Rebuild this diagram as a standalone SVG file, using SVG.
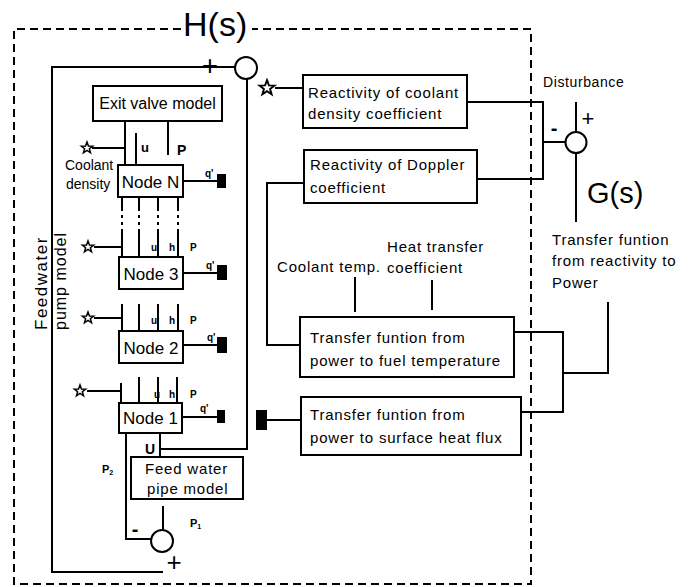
<svg xmlns="http://www.w3.org/2000/svg" width="691" height="587" viewBox="0 0 691 587">
<style>
.ln{fill:none;stroke:#000;stroke-width:2}
.bx{fill:#fff;stroke:#000;stroke-width:2}
.ds{fill:none;stroke:#000;stroke-width:2;stroke-dasharray:8 5}
.dd{fill:none;stroke:#000;stroke-width:2;stroke-dasharray:14 4 3 4 3 4 200}
.t{font-family:"Liberation Sans",Arial,Helvetica,sans-serif;fill:#000}
.b{font-size:15px;letter-spacing:0.8px}
.nd{font-size:17px;text-anchor:middle}
.sm{font-size:10px;font-weight:bold}
.blk{fill:#000}
.st{fill:#fff;stroke:#000;stroke-width:1.5}
.sum{fill:#fff;stroke:#000;stroke-width:2}
</style>
<defs>
<polygon id="star" points="0,-6 1.47,-2.02 5.71,-1.85 2.38,0.77 3.53,4.85 0,2.5 -3.53,4.85 -2.38,0.77 -5.71,-1.85 -1.47,-2.02"/>
</defs>
<rect width="691" height="587" fill="#fff"/>

<g id="boundary">
<path class="ds" d="M181,29 H14 V584 H531 V29 H252"/>
<text class="t" x="183" y="36" font-size="34">H(s)</text>
</g>

<g id="connectors">
<path class="ln" d="M235,67 H52 V572 H163"/>
<path class="ln" d="M247,79 V449 H160"/>
<path class="ln" d="M125,121 V165 M168,121 V155 M136,133 V165 M92,148 H125"/>
<path class="dd" d="M122,197 V257 M139,197 V257 M158,197 V257 M178,197 V257"/>
<path class="ln" d="M94,247 H122"/>
<path class="ln" d="M122,304 V331 M139,304 V331 M158,304 V331 M178,304 V331 M94,318 H122"/>
<path class="ln" d="M121,383 V403 M139,377 V403 M158,377 V403 M177,377 V403 M87,391 H121"/>
<path class="ln" d="M183,181 H217 M183,273 H217 M183,345 H217 M182,417 H217"/>
<path class="ln" d="M126,433 V539 H151 M160,433 V457 M163,506 V530"/>
<path class="ln" d="M275,88 H303"/>
<path class="ln" d="M467,102 H543 V179 H477 M543,142 H565"/>
<path class="ln" d="M576,102 V132 M576,153 V222"/>
<path class="ln" d="M304,183 H267 V345 H300"/>
<path class="ln" d="M355,277 V312 M432,280 V310"/>
<path class="ln" d="M514,332 H563 V412 H521 M563,373 H608 V302"/>
<path class="ln" d="M267,420 H301"/>
</g>

<g id="sum-top">
<circle class="sum" cx="246" cy="68" r="11"/>
<text class="t" x="210" y="75" font-size="28" text-anchor="middle">+</text>
</g>
<g id="sum-bottom">
<circle class="sum" cx="162" cy="541" r="11"/>
<text class="t" x="135" y="536" font-size="20" font-weight="bold" text-anchor="middle">-</text>
<text class="t" x="174" y="571" font-size="26" text-anchor="middle">+</text>
</g>
<g id="sum-right">
<circle class="sum" cx="576" cy="142.5" r="10.5"/>
<text class="t" x="554" y="135" font-size="20" font-weight="bold" text-anchor="middle">-</text>
<text class="t" x="588" y="126" font-size="22" text-anchor="middle">+</text>
</g>

<g id="exit-valve">
<rect class="bx" x="93" y="86" width="129" height="35"/>
<text class="t" x="157.5" y="109" font-size="16" text-anchor="middle">Exit valve model</text>
<text class="t" x="141" y="152" font-size="13" font-weight="bold">u</text>
<text class="t" x="177" y="155" font-size="14" font-weight="bold">P</text>
</g>

<g id="node-n">
<rect class="bx" x="118" y="165" width="65" height="32"/>
<text class="t nd" x="150.5" y="188">Node N</text>
<use href="#star" class="st" x="87" y="148"/>
<text class="t" x="65" y="170" font-size="14">Coolant</text>
<text class="t" x="66" y="189" font-size="14">density</text>
<text class="t sm" x="205" y="177">q'</text>
<rect class="blk" x="217" y="174" width="9" height="14"/>
</g>

<g id="node-3">
<rect class="bx" x="119" y="257" width="64" height="32"/>
<text class="t nd" x="151" y="280">Node 3</text>
<use href="#star" class="st" x="88" y="247"/>
<text class="t sm" x="151" y="251">u</text>
<text class="t sm" x="169" y="251">h</text>
<text class="t sm" x="190" y="251">P</text>
<text class="t sm" x="206" y="269">q'</text>
<rect class="blk" x="217" y="265" width="10" height="15"/>
</g>

<g id="node-2">
<rect class="bx" x="119" y="331" width="64" height="32"/>
<text class="t nd" x="151" y="354">Node 2</text>
<use href="#star" class="st" x="88" y="318"/>
<text class="t sm" x="151" y="324">u</text>
<text class="t sm" x="169" y="324">h</text>
<text class="t sm" x="190" y="324">P</text>
<text class="t sm" x="207" y="341">q'</text>
<rect class="blk" x="217" y="337" width="10" height="16"/>
</g>

<g id="node-1">
<rect class="bx" x="119" y="403" width="63" height="30"/>
<text class="t nd" x="150.5" y="424">Node 1</text>
<use href="#star" class="st" x="80" y="391"/>
<text class="t sm" x="154" y="398">u</text>
<text class="t sm" x="169" y="398">h</text>
<text class="t sm" x="190" y="398">P</text>
<text class="t sm" x="200" y="412">q'</text>
<rect class="blk" x="217" y="410" width="8" height="13"/>
<text class="t" x="150" y="454" font-size="14" font-weight="bold" text-anchor="middle">U</text>
</g>

<g id="feedwater-pipe">
<rect class="bx" x="131" y="457" width="112" height="42"/>
<text class="t b" x="145" y="474">Feed water</text>
<text class="t b" x="147" y="494">pipe model</text>
</g>

<g id="pump-labels">
<text class="t" transform="translate(47,330) rotate(-90)" font-size="17" letter-spacing="1.5">Feedwater</text>
<text class="t" transform="translate(66,330) rotate(-90)" font-size="16" letter-spacing="1">pump model</text>
<text class="t" x="102" y="473" font-size="11" font-weight="bold">P<tspan font-size="7" dy="2">2</tspan></text>
<text class="t" x="190" y="527" font-size="11" font-weight="bold">P<tspan font-size="7" dy="2">1</tspan></text>
</g>

<g id="coolant-reactivity">
<rect class="bx" x="303" y="75" width="164" height="53"/>
<text class="t b" x="308" y="98">Reactivity of coolant</text>
<text class="t b" x="308" y="119">density coefficient</text>
<use href="#star" class="st" x="267" y="88" transform="translate(267,88) scale(1.3) translate(-267,-88)"/>
</g>

<g id="doppler">
<rect class="bx" x="304" y="150" width="173" height="53"/>
<text class="t b" x="310" y="170">Reactivity of Doppler</text>
<text class="t b" x="310" y="193">coefficient</text>
</g>

<g id="fuel-temp">
<rect class="bx" x="300" y="317" width="214" height="60"/>
<text class="t b" x="310" y="343">Transfer funtion from</text>
<text class="t b" x="310" y="366">power to fuel temperature</text>
<text class="t b" x="277" y="272">Coolant temp.</text>
<text class="t b" x="387" y="252">Heat transfer</text>
<text class="t b" x="387" y="273">coefficient</text>
</g>

<g id="heat-flux">
<rect class="bx" x="301" y="397" width="220" height="58"/>
<text class="t b" x="310" y="420">Transfer funtion from</text>
<text class="t b" x="310" y="443">power to surface heat flux</text>
<rect class="blk" x="256" y="410" width="11" height="20"/>
</g>

<g id="reactivity-to-power">
<text class="t" x="543" y="87" font-size="14" letter-spacing="0.6">Disturbance</text>
<text class="t" x="587" y="203" font-size="29">G(s)</text>
<text class="t b" x="552" y="245">Transfer funtion</text>
<text class="t b" x="552" y="266">from reactivity to</text>
<text class="t b" x="552" y="288">Power</text>
</g>
</svg>
